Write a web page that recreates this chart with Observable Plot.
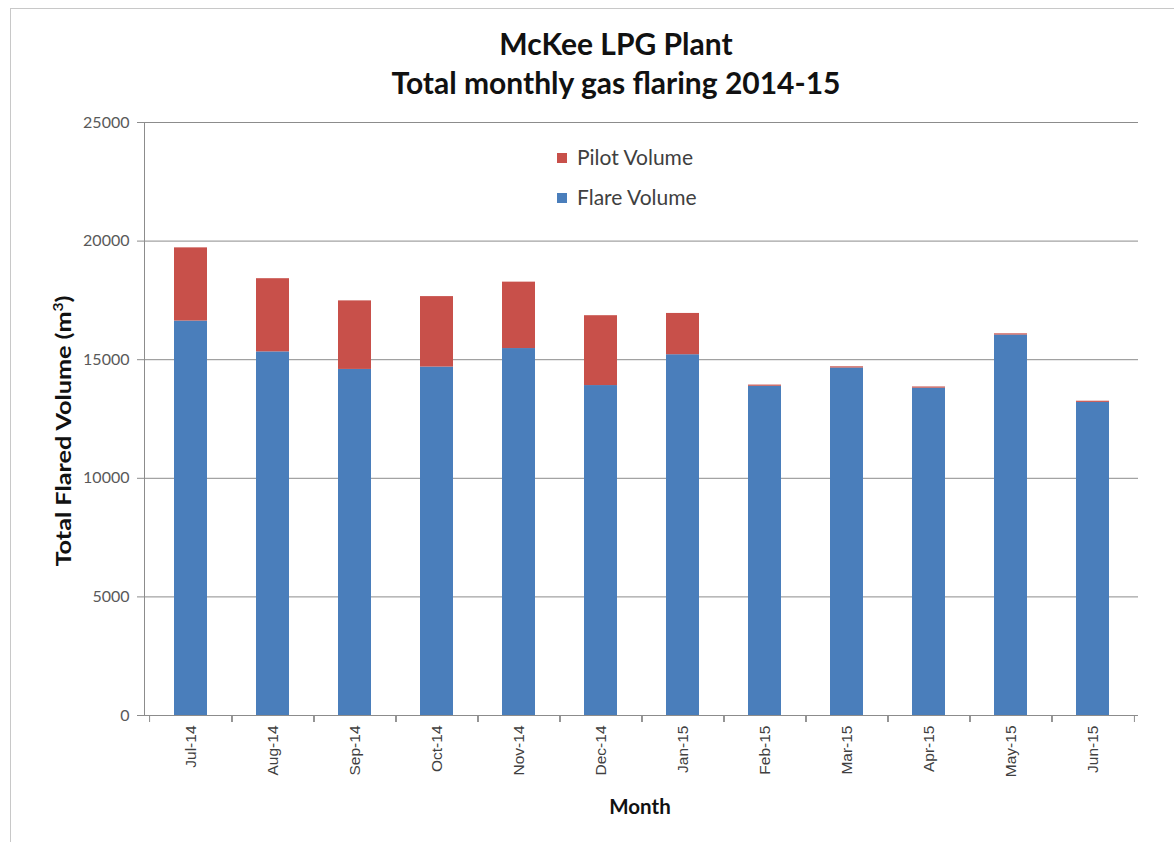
<!DOCTYPE html>
<html><head><meta charset="utf-8">
<script src="https://cdn.jsdelivr.net/npm/d3@7"></script>
<script src="https://cdn.jsdelivr.net/npm/@observablehq/plot@0.6"></script>
<style>
body{margin:0;background:#fff;overflow:hidden}
#wrap{position:relative;width:1174px;height:842px;overflow:hidden;background:#fff}
.outer{position:absolute;left:10px;top:8px;width:1300px;height:1000px;border-left:1px solid #c8c8c8;border-top:1px solid #c8c8c8}
#chart{position:absolute;left:0;top:0}
.title{position:absolute;left:0;width:1232px;text-align:center;font-family:Lato,"Open Sans",sans-serif;font-weight:700;font-size:30px;line-height:36px;color:#111}
.leg{position:absolute;font-family:Lato,"Open Sans",sans-serif;font-size:21px;line-height:22px;color:#404040;white-space:nowrap}
.leg span{display:inline-block;width:10px;height:10px;margin-right:10px;vertical-align:2px}
.ylab{position:absolute;left:62px;top:431px;transform:translate(-50%,-50%) rotate(-90deg) scaleX(1.2);font-family:Lato,"Open Sans",sans-serif;font-weight:700;font-size:21px;color:#111;white-space:nowrap}
.xlab{position:absolute;left:640px;top:806px;transform:translate(-50%,-50%);font-family:Lato,"Open Sans",sans-serif;font-weight:700;font-size:20.5px;color:#111}
</style></head><body>
<div id="wrap">
<div class="outer"></div>
<div id="chart"></div>
<div class="title" style="top:25px">McKee LPG Plant</div>
<div class="title" style="top:64px">Total monthly gas flaring 2014-15</div>
<div class="leg" id="leg1" style="left:557px;top:146px"></div>
<div class="leg" id="leg2" style="left:557px;top:186px"></div>
<div class="ylab">Total Flared Volume (m<sup style="font-size:13px">3</sup>)</div>
<div class="xlab">Month</div>
</div>
<script>
const months = ["Jul-14","Aug-14","Sep-14","Oct-14","Nov-14","Dec-14","Jan-15","Feb-15","Mar-15","Apr-15","May-15","Jun-15"];
const flareVolume = [16630,15330,14590,14690,15470,13910,15210,13880,14650,13800,16040,13200];
const pilotVolume = [3085,3085,2890,2970,2800,2945,1740,50,50,50,50,50];
const seriesNames = ["Flare Volume","Pilot Volume"];
const seriesColors = ["#4a7ebb","#c8504a"];
const yTicks = [0,5000,10000,15000,20000,25000];

const data = [
  ...months.map((m,i)=>({month:m, series:seriesNames[0], value:flareVolume[i]})),
  ...months.map((m,i)=>({month:m, series:seriesNames[1], value:pilotVolume[i]}))
];

const W=1174,H=842,mL=144,mR=36,mT=122,mB=127;
const step=(W-mL-mR)/months.length;
const chart = Plot.plot({
  width:W,height:H,marginLeft:mL,marginRight:mR,marginTop:mT,marginBottom:mB,
  style:{fontFamily:"'Liberation Sans',Arial,sans-serif",fontSize:"13px",background:"transparent",overflow:"visible"},
  x:{domain:months,paddingInner:0.6,paddingOuter:0.3,label:null},
  y:{domain:[0,25000],label:null},
  color:{domain:seriesNames,range:seriesColors},
  marks:[
    Plot.gridY(yTicks,{stroke:"#8c8c8c",strokeOpacity:1}),
    Plot.barY(data,{x:"month",y:"value",fill:"series",order:seriesNames}),
    Plot.ruleY([0],{stroke:"#8c8c8c"}),
    Plot.frame({anchor:"left",stroke:"#8c8c8c"}),
    Plot.axisY(yTicks,{tickSize:7,tickPadding:8,stroke:"#8c8c8c",fill:"#595959",fontFamily:"Lato,'Open Sans',sans-serif",fontSize:16,label:null,tickFormat:d=>String(d)}),
    Plot.axisX({tickSize:0,tickRotate:-90,tickPadding:10,fill:"#404040",fontSize:15.5,label:null}),
    Plot.axisX({tickSize:7,text:null,dx:-step/2,stroke:"#8c8c8c",label:null}),
    Plot.axisX({tickSize:7,text:null,dx:step/2,stroke:"#8c8c8c",label:null})
  ]
});
document.getElementById("chart").appendChild(chart);
document.getElementById("leg1").innerHTML = `<span style="background:${seriesColors[1]}"></span>${seriesNames[1]}`;
document.getElementById("leg2").innerHTML = `<span style="background:${seriesColors[0]}"></span>${seriesNames[0]}`;
</script>
</body></html>
